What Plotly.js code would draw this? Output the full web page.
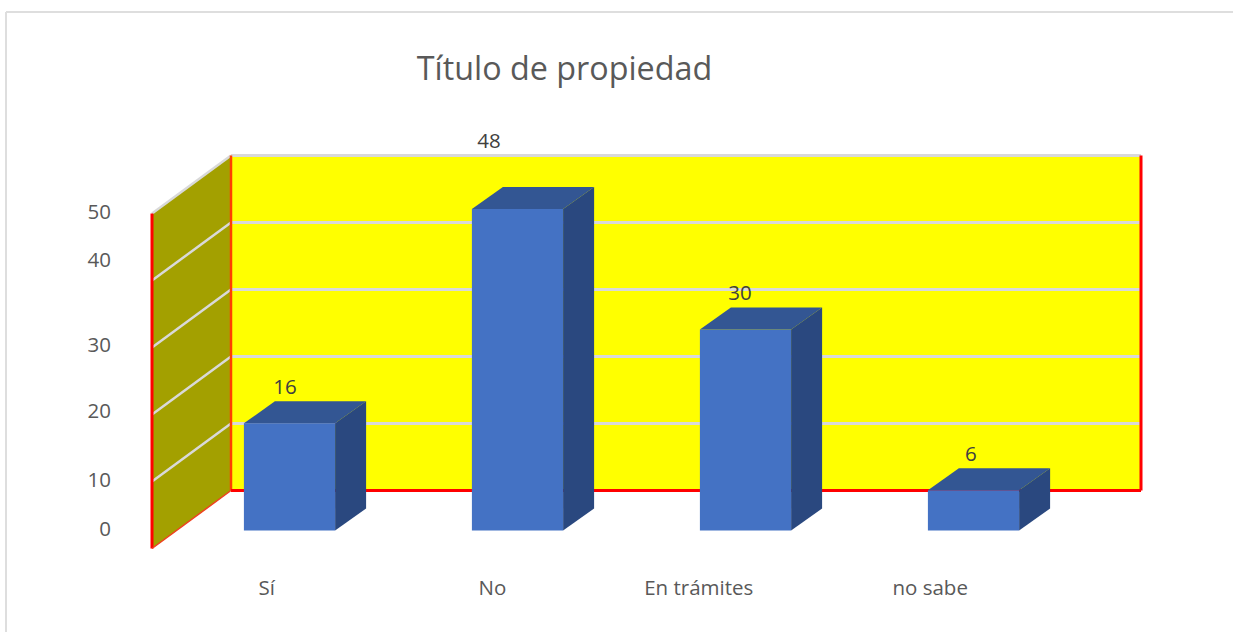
<!DOCTYPE html>
<html>
<head>
<meta charset="utf-8">
<script src="https://cdn.plot.ly/plotly-3.0.1.min.js"></script>
<style>html,body{margin:0;padding:0;background:#fff}#chart{width:1233px;height:632px}</style>
</head>
<body>
<div id="chart"></div>
<script>
const categories = ["Sí", "No", "En trámites", "no sabe"];
const values = [16, 48, 30, 6];
const gridValues = [0, 10, 20, 30, 40, 50];
const yTickLabels = ["0", "10", "20", "30", "40", "50"];
const yTickPositions = [0.2, 7.5, 17.8, 27.7, 40.4, 47.6];
const xTickPositions = [-0.1, 0.89, 1.795, 2.81];
const labelShiftX = [-0.02, -0.125, -0.024, -0.011];
const labelShiftY = [5.2, 9.8, 5.2, 5.2];

// Axis scales: 228 px per category, 6.7 px per value unit
const W = 1233, H = 632, L = 118, R = 1200, T = 100, B = 572;
const pxX = 228, pxY = 6.7, originX = 289.5, originY = 530.5;
const xRange = [(L - originX) / pxX, (R - originX) / pxX];
const yRange = [(originY - B) / pxY, (originY - T) / pxY];

const barWidth = 0.4;
const barDX = 31 / pxX, barDY = 22 / pxY;            // bar depth
const wallFront = (152 - originX) / pxX;
const wallBack = (231 - originX) / pxX;
const wallRight = (1141 - originX) / pxX;
const floorBack = (originY - 490.5) / pxY;
const floorFront = (originY - 548.5) / pxY;

const yellow = "#ffff00", olive = "#a3a000", red = "#ff0000", grid = "#d9d9d9";
const front = "#4472c4", topFace = "#335693", sideFace = "#2a487f";

const seg = (x0, y0, x1, y1, color, width) => ({
  type: "line", xref: "x", yref: "y", layer: "below",
  x0, y0, x1, y1, line: {color, width}
});
const shapes = [
  {type: "line", xref: "paper", yref: "paper", x0: (6 - L) / (R - L), x1: (6 - L) / (R - L),
   y0: (B - H) / (B - T), y1: (B - 12) / (B - T), line: {color: "#dedede", width: 2}},
  {type: "line", xref: "paper", yref: "paper", x0: (6 - L) / (R - L), x1: (W - L) / (R - L),
   y0: (B - 12) / (B - T), y1: (B - 12) / (B - T), line: {color: "#dedede", width: 2}},
  {type: "rect", xref: "x", yref: "y", layer: "below", x0: wallBack, x1: wallRight,
   y0: floorBack, y1: floorBack + 50, fillcolor: yellow, line: {width: 0}},
  {type: "path", xref: "x", yref: "y", layer: "below", fillcolor: olive, line: {width: 0},
   path: `M${wallFront},${floorFront} L${wallBack},${floorBack} L${wallBack},${floorBack + 50} L${wallFront},${floorFront + 50} Z`}
];
gridValues.forEach(v => {
  if (v === 0) return;
  shapes.push(seg(wallBack, floorBack + v, wallRight, floorBack + v, grid, 3));
  shapes.push(seg(wallFront, floorFront + v, wallBack, floorBack + v, grid, 2.5));
});
shapes.push(seg(wallBack, floorBack, wallBack, floorBack + 50, "#ff4000", 2.5));
shapes.push(seg(wallRight, floorBack, wallRight, floorBack + 50, red, 3));
shapes.push(seg(wallBack, floorBack, wallRight, floorBack, red, 3));
shapes.push(seg(wallFront, floorFront, wallFront, floorFront + 50, red, 3));
shapes.push(seg(wallFront, floorFront, wallBack, floorBack, "#f04020", 1.5));

const face = (xs, ys, color) => ({
  type: "scatter", mode: "lines", x: xs, y: ys, fill: "toself", fillcolor: color,
  line: {width: 0, color}, hoverinfo: "skip", showlegend: false
});

const traces = [{
  type: "bar", x: categories.map((c, i) => i), y: values, width: barWidth,
  marker: {color: front, line: {width: 0}}, showlegend: false, hoverinfo: "skip"
}];
values.forEach((v, i) => {
  const a = i - barWidth / 2, b = i + barWidth / 2;
  traces.push(face([a, b, b + barDX, a + barDX, a], [v, v, v + barDY, v + barDY, v], topFace));
  traces.push(face([b, b + barDX, b + barDX, b, b], [0, barDY, v + barDY, v, 0], sideFace));
});
traces.push({
  type: "scatter", mode: "text",
  x: values.map((v, i) => i + labelShiftX[i]),
  y: values.map((v, i) => v + labelShiftY[i]),
  text: values.map(String), textposition: "middle center",
  textfont: {family: "'Open Sans', sans-serif", size: 20.5, color: "#404040"},
  cliponaxis: false, hoverinfo: "skip", showlegend: false
});

const axisFont = {family: "'Open Sans', sans-serif", size: 20.5, color: "#595959"};
const layout = {
  width: W, height: H, autosize: false,
  margin: {l: L, r: W - R, t: T, b: H - B, pad: 0},
  paper_bgcolor: "#ffffff", plot_bgcolor: "rgba(0,0,0,0)",
  showlegend: false, shapes,
  title: {text: "Título de propiedad", x: 564.5 / W, xanchor: "center",
          y: 1 - 69 / H, yanchor: "middle",
          font: {family: "'Open Sans', sans-serif", size: 32.3, color: "#595959"}},
  xaxis: {range: xRange, showgrid: false, zeroline: false, showline: false, ticks: "",
          tickmode: "array", tickvals: xTickPositions, ticktext: categories, tickfont: axisFont,
          ticklabelstandoff: 1},
  yaxis: {range: yRange, showgrid: false, zeroline: false, showline: false, ticks: "",
          tickmode: "array", tickvals: yTickPositions, ticktext: yTickLabels, tickfont: axisFont,
          ticklabelstandoff: 6}
};
Plotly.newPlot("chart", traces, layout, {displayModeBar: false, staticPlot: true});
</script>
</body>
</html>
